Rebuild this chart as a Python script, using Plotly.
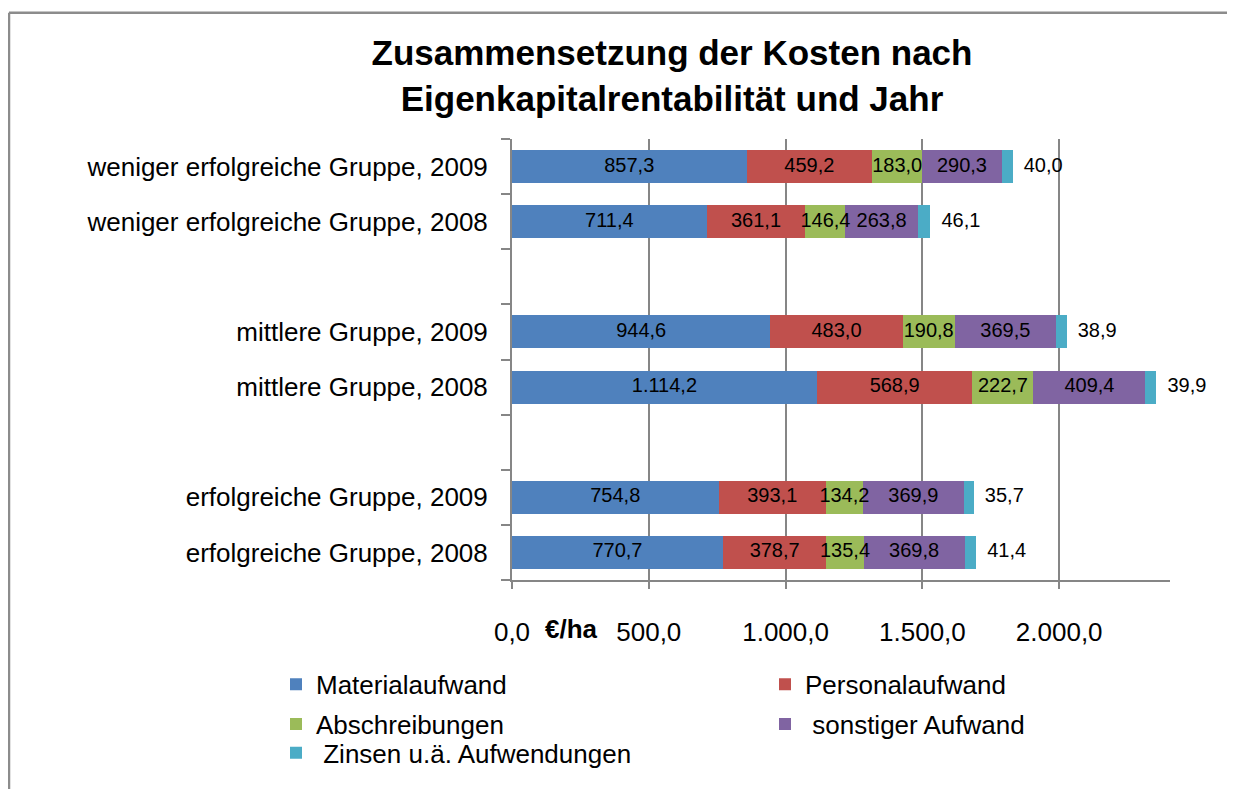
import plotly.graph_objects as go

# categories, bottom to top (blank slots separate the groups)
categories = [
    "erfolgreiche Gruppe, 2008",
    "erfolgreiche Gruppe, 2009",
    " ",
    "mittlere Gruppe, 2008",
    "mittlere Gruppe, 2009",
    "  ",
    "weniger erfolgreiche Gruppe, 2008",
    "weniger erfolgreiche Gruppe, 2009",
]
groups = [
    "erfolgreiche Gruppe, 2008",
    "erfolgreiche Gruppe, 2009",
    "mittlere Gruppe, 2008",
    "mittlere Gruppe, 2009",
    "weniger erfolgreiche Gruppe, 2008",
    "weniger erfolgreiche Gruppe, 2009",
]

materialaufwand = [770.7, 754.8, 1114.2, 944.6, 711.4, 857.3]
personalaufwand = [378.7, 393.1, 568.9, 483.0, 361.1, 459.2]
abschreibungen = [135.4, 134.2, 222.7, 190.8, 146.4, 183.0]
sonstiger_aufwand = [369.8, 369.9, 409.4, 369.5, 263.8, 290.3]
zinsen = [41.4, 35.7, 39.9, 38.9, 46.1, 40.0]

x_ticks = [0, 500, 1000, 1500, 2000]

FONT = "Liberation Sans, Arial, sans-serif"
GRID = "#868686"

# page body has an 8px margin, so the figure is 16px smaller than the window
W, H = 1219, 781
PX0, PX1, PY0, PY1 = 512, 1170, 139, 583   # plot area in window pixels


def px(sx):
    return (sx - PX0) / (PX1 - PX0)


def py(sy):
    return (PY1 - sy) / (PY1 - PY0)


series = [
    ("Materialaufwand", materialaufwand, "#4F81BD", (276, 688)),
    ("Personalaufwand", personalaufwand, "#C0504D", (765, 688)),
    ("Abschreibungen", abschreibungen, "#9BBB59", (276, 728)),
    (" sonstiger Aufwand", sonstiger_aufwand, "#8064A2", (765, 728)),
    (" Zinsen u.ä. Aufwendungen", zinsen, "#4BACC6", (276, 757)),
]

fig = go.Figure()
legends = {}
base = [0.0] * len(groups)
label_traces = []
for i, (name, vals, col, (lx, ly)) in enumerate(series):
    leg = "legend" if i == 0 else f"legend{i + 1}"
    legends[leg] = dict(
        x=px(lx), y=py(ly), xanchor="left", yanchor="middle",
        font=dict(family=FONT, size=26, color="black"),
        bgcolor="rgba(0,0,0,0)", itemwidth=30,
    )
    fig.add_trace(go.Bar(
        y=groups, x=vals, name=name, orientation="h",
        marker=dict(color=col, line=dict(width=0)),
        legend=leg, hoverinfo="skip",
    ))
    last = i == len(series) - 1
    if last:
        lx_vals = [b + v for b, v in zip(base, vals)]
    else:
        lx_vals = [b + v / 2 for b, v in zip(base, vals)]
    label_traces.append(go.Scatter(
        x=lx_vals, y=groups, mode="text", customdata=vals,
        texttemplate=("\u00a0\u00a0%{customdata:,.1f}" if last else "%{customdata:,.1f}"),
        textposition="middle right" if last else "middle center",
        textfont=dict(family=FONT, size=20, color="black"),
        showlegend=False, cliponaxis=False, hoverinfo="skip",
    ))
    base = [b + v for b, v in zip(base, vals)]

for t in label_traces:
    fig.add_trace(t)

fig.update_layout(
    width=W, height=H,
    barmode="stack", bargap=0.4,
    separators=",.",
    paper_bgcolor="white", plot_bgcolor="white",
    margin=dict(l=PX0 - 8, r=W - (PX1 - 8), t=PY0 - 8, b=H - (PY1 - 8)),
    font=dict(family=FONT, color="black"),
    title=dict(
        text="Zusammensetzung der Kosten nach<br>Eigenkapitalrentabilität und Jahr",
        font=dict(family=FONT, size=35, color="black", weight="bold"),
        x=(672 - 8) / W, xanchor="center", xref="container",
        y=1 - (65 - 8) / H, yanchor="middle", yref="container",
    ),
    xaxis=dict(
        range=[0, 2405], tickvals=x_ticks, tickformat=",.1f",
        showgrid=True, gridcolor=GRID, gridwidth=2, zeroline=False,
        showline=True, linecolor=GRID, linewidth=2,
        ticks="outside", ticklen=7, tickwidth=2, tickcolor=GRID,
        tickfont=dict(family=FONT, size=26, color="black"),
        ticklabelstandoff=21,
    ),
    yaxis=dict(
        categoryorder="array", categoryarray=categories,
        range=[-0.5, 7.5], showgrid=False, zeroline=False,
        showline=True, linecolor=GRID, linewidth=2,
        ticks="outside", ticklen=9, tickwidth=2, tickcolor=GRID,
        tickson="boundaries",
        tickfont=dict(family=FONT, size=26, color="black"),
        ticklabelstandoff=17,
    ),
    annotations=[dict(
        text="€/ha", xref="paper", yref="paper",
        x=px(571), y=py(632),
        xanchor="center", yanchor="middle", showarrow=False,
        font=dict(family=FONT, size=26, color="black", weight="bold"),
    )],
    shapes=[
        dict(type="line", xref="paper", yref="paper",
             x0=px(9), x1=px(1300), y0=py(12), y1=py(12),
             line=dict(color="#8C8C8C", width=2.5), layer="below"),
        dict(type="line", xref="paper", yref="paper",
             x0=px(9), x1=px(9), y0=py(12), y1=py(850),
             line=dict(color="#8C8C8C", width=2.5), layer="below"),
    ],
    **legends,
)

fig.write_html("out.html")
